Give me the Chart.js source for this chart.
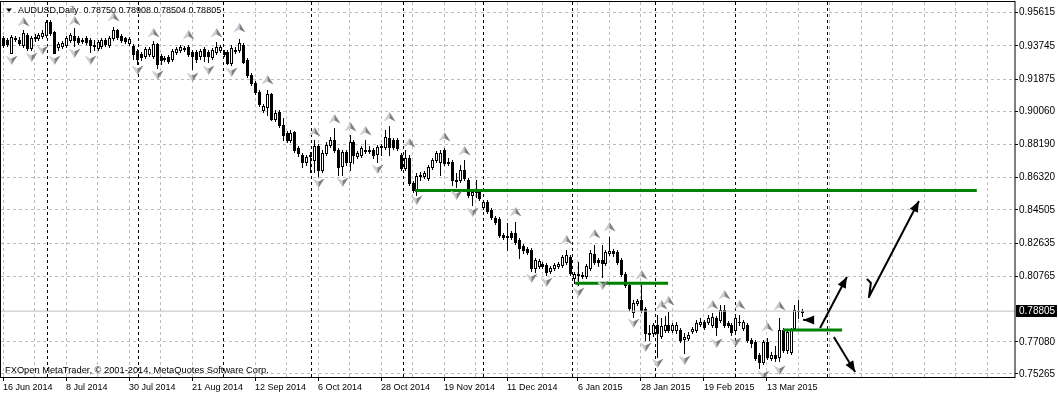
<!DOCTYPE html>
<html>
<head>
<meta charset="utf-8">
<script src="https://cdn.jsdelivr.net/npm/chart.js@4.4.1/dist/chart.umd.min.js"></script>
<style>
  html, body { margin: 0; padding: 0; background: #ffffff; }
  #wrap { width: 1058px; height: 395px; }
</style>
</head>
<body>
<div id="wrap"><canvas id="chart" width="1058" height="395"></canvas></div>
<script>
// AUDUSD daily bars, one entry per trading day from 16 Jun 2014
const openPrices = [
  0.9419, 0.9408, 0.9335, 0.9413, 0.9408, 0.9380, 0.9436, 0.9363, 0.9425, 0.9419,
  0.9430, 0.9436, 0.9509, 0.9453, 0.9368, 0.9374, 0.9380, 0.9408, 0.9430, 0.9419,
  0.9408, 0.9419, 0.9408, 0.9380, 0.9363, 0.9374, 0.9408, 0.9380, 0.9419, 0.9464,
  0.9430, 0.9419, 0.9391, 0.9373, 0.9345, 0.9328, 0.9317, 0.9328, 0.9317, 0.9385,
  0.9317, 0.9306, 0.9312, 0.9300, 0.9340, 0.9351, 0.9362, 0.9368, 0.9340, 0.9340,
  0.9317, 0.9357, 0.9340, 0.9312, 0.9340, 0.9351, 0.9340, 0.9340, 0.9278, 0.9351,
  0.9351, 0.9380, 0.9295, 0.9211, 0.9166, 0.9115, 0.9014, 0.9030, 0.9104, 0.8963,
  0.9002, 0.8929, 0.8884, 0.8845, 0.8890, 0.8800, 0.8760, 0.8721, 0.8760, 0.8732,
  0.8811, 0.8676, 0.8771, 0.8816, 0.8845, 0.8788, 0.8698, 0.8777, 0.8721, 0.8833,
  0.8754, 0.8760, 0.8788, 0.8788, 0.8788, 0.8766, 0.8811, 0.8805, 0.8856, 0.8845,
  0.8845, 0.8760, 0.8687, 0.8743, 0.8602, 0.8563, 0.8642, 0.8642, 0.8630, 0.8692,
  0.8732, 0.8721, 0.8788, 0.8715, 0.8721, 0.8619, 0.8619, 0.8676, 0.8619, 0.8535,
  0.8557, 0.8552, 0.8467, 0.8495, 0.8450, 0.8405, 0.8400, 0.8310, 0.8304, 0.8321,
  0.8321, 0.8281, 0.8248, 0.8231, 0.8225, 0.8124, 0.8135, 0.8146, 0.8141, 0.8107,
  0.8124, 0.8135, 0.8141, 0.8157, 0.8186, 0.8067, 0.8090, 0.8084, 0.8079, 0.8124,
  0.8202, 0.8169, 0.8169, 0.8152, 0.8208, 0.8219, 0.8214, 0.8169, 0.8090, 0.8028,
  0.7876, 0.7926, 0.7943, 0.7893, 0.7758, 0.7758, 0.7803, 0.7741, 0.7775, 0.7803,
  0.7775, 0.7775, 0.7775, 0.7724, 0.7729, 0.7769, 0.7775, 0.7808, 0.7820, 0.7820,
  0.7803, 0.7842, 0.7831, 0.7887, 0.7814, 0.7803, 0.7775, 0.7820, 0.7786, 0.7803,
  0.7718, 0.7707, 0.7634, 0.7594, 0.7707, 0.7617, 0.7634, 0.7622, 0.7775, 0.7662,
  0.7651, 0.7786, 0.7882, 0.78750
];
const highPrices = [
  0.9430, 0.9419, 0.9436, 0.9430, 0.9425, 0.9464, 0.9447, 0.9430, 0.9442, 0.9447,
  0.9464, 0.9520, 0.9520, 0.9458, 0.9396, 0.9402, 0.9430, 0.9447, 0.9475, 0.9430,
  0.9419, 0.9430, 0.9419, 0.9408, 0.9408, 0.9419, 0.9419, 0.9430, 0.9481, 0.9470,
  0.9442, 0.9425, 0.9425, 0.9385, 0.9357, 0.9340, 0.9368, 0.9368, 0.9402, 0.9390,
  0.9328, 0.9317, 0.9323, 0.9357, 0.9368, 0.9379, 0.9373, 0.9379, 0.9351, 0.9351,
  0.9357, 0.9368, 0.9351, 0.9363, 0.9396, 0.9380, 0.9351, 0.9351, 0.9380, 0.9368,
  0.9413, 0.9391, 0.9306, 0.9222, 0.9177, 0.9126, 0.9047, 0.9126, 0.9109, 0.9014,
  0.9014, 0.8968, 0.8895, 0.8901, 0.8895, 0.8811, 0.8771, 0.8760, 0.8777, 0.8845,
  0.8822, 0.8788, 0.8833, 0.8861, 0.8912, 0.8800, 0.8788, 0.8788, 0.8873, 0.8845,
  0.8783, 0.8811, 0.8845, 0.8811, 0.8800, 0.8816, 0.8822, 0.8901, 0.8923, 0.8856,
  0.8856, 0.8771, 0.8788, 0.8760, 0.8614, 0.8659, 0.8664, 0.8670, 0.8704, 0.8743,
  0.8783, 0.8788, 0.8800, 0.8743, 0.8732, 0.8659, 0.8704, 0.8732, 0.8630, 0.8563,
  0.8619, 0.8563, 0.8507, 0.8507, 0.8462, 0.8416, 0.8411, 0.8321, 0.8377, 0.8332,
  0.8383, 0.8293, 0.8259, 0.8242, 0.8236, 0.8180, 0.8174, 0.8157, 0.8152, 0.8135,
  0.8152, 0.8157, 0.8197, 0.8225, 0.8197, 0.8101, 0.8157, 0.8101, 0.8146, 0.8225,
  0.8253, 0.8180, 0.8253, 0.8225, 0.8298, 0.8231, 0.8225, 0.8180, 0.8101, 0.8039,
  0.7943, 0.7949, 0.8028, 0.7904, 0.7803, 0.7814, 0.7859, 0.7842, 0.7853, 0.7876,
  0.7814, 0.7820, 0.7786, 0.7758, 0.7763, 0.7791, 0.7831, 0.7842, 0.7831, 0.7859,
  0.7870, 0.7853, 0.7915, 0.7915, 0.7825, 0.7814, 0.7859, 0.7859, 0.7831, 0.7814,
  0.7729, 0.7718, 0.7645, 0.7718, 0.7729, 0.7651, 0.7684, 0.7842, 0.7786, 0.7775,
  0.7786, 0.7915, 0.7943, 0.78908
];
const lowPrices = [
  0.9368, 0.9374, 0.9335, 0.9402, 0.9380, 0.9368, 0.9351, 0.9351, 0.9402, 0.9408,
  0.9419, 0.9425, 0.9436, 0.9335, 0.9351, 0.9363, 0.9368, 0.9396, 0.9374, 0.9385,
  0.9391, 0.9385, 0.9340, 0.9351, 0.9351, 0.9363, 0.9374, 0.9368, 0.9408, 0.9413,
  0.9396, 0.9391, 0.9380, 0.9300, 0.9272, 0.9295, 0.9306, 0.9317, 0.9306, 0.9250,
  0.9272, 0.9289, 0.9278, 0.9289, 0.9328, 0.9340, 0.9345, 0.9317, 0.9244, 0.9283,
  0.9300, 0.9289, 0.9284, 0.9301, 0.9329, 0.9340, 0.9318, 0.9273, 0.9267, 0.9335,
  0.9340, 0.9278, 0.9199, 0.9154, 0.9104, 0.9036, 0.9002, 0.8985, 0.8957, 0.8952,
  0.8918, 0.8845, 0.8833, 0.8833, 0.8777, 0.8754, 0.8692, 0.8704, 0.8664, 0.8664,
  0.8642, 0.8664, 0.8760, 0.8805, 0.8777, 0.8647, 0.8647, 0.8704, 0.8676, 0.8715,
  0.8743, 0.8749, 0.8771, 0.8771, 0.8743, 0.8721, 0.8760, 0.8794, 0.8760, 0.8794,
  0.8788, 0.8676, 0.8676, 0.8591, 0.8552, 0.8535, 0.8619, 0.8630, 0.8619, 0.8681,
  0.8721, 0.8647, 0.8704, 0.8704, 0.8591, 0.8580, 0.8608, 0.8619, 0.8523, 0.8478,
  0.8523, 0.8507, 0.8456, 0.8433, 0.8400, 0.8371, 0.8298, 0.8287, 0.8225, 0.8287,
  0.8259, 0.8180, 0.8208, 0.8202, 0.8107, 0.8101, 0.8124, 0.8124, 0.8084, 0.8095,
  0.8112, 0.8124, 0.8129, 0.8146, 0.8084, 0.8039, 0.8028, 0.8067, 0.8067, 0.8112,
  0.8146, 0.8135, 0.8073, 0.8141, 0.8197, 0.8191, 0.8146, 0.8079, 0.8017, 0.7887,
  0.7848, 0.7915, 0.7876, 0.7718, 0.7718, 0.7741, 0.7622, 0.7729, 0.7763, 0.7763,
  0.7763, 0.7758, 0.7707, 0.7645, 0.7718, 0.7758, 0.7763, 0.7797, 0.7780, 0.7808,
  0.7791, 0.7746, 0.7820, 0.7791, 0.7791, 0.7746, 0.7763, 0.7803, 0.7775, 0.7707,
  0.7679, 0.7605, 0.7560, 0.7583, 0.7611, 0.7605, 0.7600, 0.7600, 0.7651, 0.7645,
  0.7639, 0.7775, 0.7842, 0.78504
];
const closePrices = [
  0.9380, 0.9385, 0.9425, 0.9419, 0.9391, 0.9447, 0.9363, 0.9419, 0.9419, 0.9436,
  0.9447, 0.9509, 0.9447, 0.9335, 0.9385, 0.9391, 0.9419, 0.9436, 0.9408, 0.9396,
  0.9402, 0.9396, 0.9380, 0.9374, 0.9396, 0.9408, 0.9385, 0.9419, 0.9464, 0.9425,
  0.9408, 0.9402, 0.9413, 0.9328, 0.9300, 0.9312, 0.9357, 0.9357, 0.9385, 0.9272,
  0.9295, 0.9300, 0.9289, 0.9345, 0.9357, 0.9368, 0.9357, 0.9328, 0.9317, 0.9300,
  0.9345, 0.9317, 0.9318, 0.9351, 0.9368, 0.9368, 0.9329, 0.9278, 0.9363, 0.9346,
  0.9391, 0.9284, 0.9211, 0.9166, 0.9115, 0.9047, 0.9036, 0.9104, 0.8963, 0.8997,
  0.8929, 0.8873, 0.8845, 0.8884, 0.8788, 0.8771, 0.8721, 0.8749, 0.8754, 0.8811,
  0.8676, 0.8771, 0.8816, 0.8845, 0.8788, 0.8692, 0.8777, 0.8721, 0.8833, 0.8760,
  0.8771, 0.8800, 0.8783, 0.8783, 0.8760, 0.8805, 0.8805, 0.8861, 0.8805, 0.8805,
  0.8800, 0.8687, 0.8743, 0.8602, 0.8563, 0.8642, 0.8647, 0.8659, 0.8692, 0.8732,
  0.8771, 0.8771, 0.8715, 0.8721, 0.8619, 0.8614, 0.8676, 0.8630, 0.8535, 0.8552,
  0.8552, 0.8518, 0.8495, 0.8445, 0.8411, 0.8383, 0.8310, 0.8298, 0.8298, 0.8298,
  0.8270, 0.8236, 0.8225, 0.8214, 0.8124, 0.8169, 0.8163, 0.8135, 0.8101, 0.8124,
  0.8141, 0.8146, 0.8186, 0.8197, 0.8095, 0.8090, 0.8084, 0.8079, 0.8135, 0.8208,
  0.8157, 0.8157, 0.8152, 0.8214, 0.8219, 0.8208, 0.8157, 0.8090, 0.8028, 0.7898,
  0.7926, 0.7938, 0.7887, 0.7758, 0.7752, 0.7803, 0.7758, 0.7797, 0.7803, 0.7775,
  0.7803, 0.7803, 0.7718, 0.7735, 0.7746, 0.7780, 0.7814, 0.7820, 0.7791, 0.7842,
  0.7848, 0.7791, 0.7887, 0.7803, 0.7803, 0.7763, 0.7842, 0.7817, 0.7820, 0.7718,
  0.7701, 0.7617, 0.7594, 0.7707, 0.7622, 0.7634, 0.7617, 0.7775, 0.7662, 0.7763,
  0.7775, 0.7887, 0.7880, 0.78805
];

// Bill Williams fractals: bar index and arrow level
const upFractalBars = [5, 18, 28, 38, 47, 54, 60, 67, 79, 84, 88, 92, 98, 103, 112, 117, 130, 143, 150, 154, 162, 167, 169, 180, 183, 187, 194, 197];
const upFractalPrices = [0.9509, 0.9515, 0.9537, 0.9447, 0.9436, 0.9447, 0.9475, 0.9183, 0.8890, 0.8963, 0.8918, 0.8895, 0.8974, 0.8828, 0.8861, 0.8783, 0.8439, 0.8281, 0.8315, 0.8355, 0.8084, 0.7915, 0.7938, 0.7915, 0.7972, 0.7915, 0.7791, 0.7910];
const downFractalBars = [2, 7, 10, 13, 18, 22, 34, 39, 48, 52, 58, 80, 86, 95, 105, 115, 119, 134, 138, 146, 152, 160, 163, 166, 173, 181, 186, 193, 197];
const downFractalPrices = [0.9295, 0.9312, 0.9351, 0.9295, 0.9335, 0.9295, 0.9239, 0.9211, 0.9199, 0.9239, 0.9228, 0.8602, 0.8608, 0.8681, 0.8507, 0.8535, 0.8439, 0.8067, 0.8045, 0.7989, 0.8028, 0.7814, 0.7679, 0.7589, 0.7605, 0.7701, 0.7707, 0.7521, 0.7549];

// time axis
const dateBars = [0, 16, 32, 48, 64, 80, 96, 112, 128, 146, 162, 178, 194];
const dateLabels = ['16 Jun 2014', '8 Jul 2014', '30 Jul 2014', '21 Aug 2014', '12 Sep 2014', '6 Oct 2014',
  '28 Oct 2014', '19 Nov 2014', '11 Dec 2014', '6 Jan 2015', '28 Jan 2015', '19 Feb 2015', '13 Mar 2015'];
const gridBars = [0, 8, 16, 24, 32, 40, 48, 56, 64, 72, 80, 88, 96, 104, 112, 120, 128, 137, 146, 154,
  162, 170, 178, 186, 194, 202, 210, 218, 226, 234, 242, 250];
const monthSeparators = [11.2, 34.3, 55.8, 78.2, 101.5, 121.8, 144.4, 165.5, 185.8, 209.2];

// price axis
const priceTicks = [0.95615, 0.93745, 0.91875, 0.90060, 0.88190, 0.86320, 0.84505, 0.82635, 0.80765, 0.77080, 0.75265];

// drawn objects: horizontal levels and hand-drawn arrows (bar index, price)
const levelStart = [104.6, 145.3, 198.1];
const levelEnd = [247.3, 168.9, 213.1];
const levelPrice = [0.8560, 0.8037, 0.7775];
const arrowPaths = [
  [[205.7, 0.7831], [203.2, 0.7831]],
  [[207.5, 0.7786], [214.3, 0.8073]],
  [[211.0, 0.7735], [216.4, 0.7538]],
  [[219.4, 0.8062], [220.4, 0.8039], [219.9, 0.7960], [232.6, 0.8501]]
];

const lastBar = closePrices.length - 1;
const bidPrice = closePrices[lastBar];
const gridColor = '#bcbcbc';
const fontFamily = '"Liberation Sans", Arial, sans-serif';

function drawFractal(ctx, cx, cy, up) {
  const s = up ? -1 : 1;
  ctx.beginPath();
  ctx.moveTo(cx, cy + s * 5);
  ctx.lineTo(cx - 6, cy - s * 4.5);
  ctx.lineTo(cx, cy - s * 1.5);
  ctx.closePath();
  ctx.fillStyle = '#c9ced6';
  ctx.fill();
  ctx.beginPath();
  ctx.moveTo(cx, cy + s * 5);
  ctx.lineTo(cx + 6, cy - s * 4.5);
  ctx.lineTo(cx, cy - s * 1.5);
  ctx.closePath();
  ctx.fillStyle = '#808080';
  ctx.fill();
}

const mtPlugin = {
  id: 'metatrader',
  beforeDatasetsDraw(chart) {
    const { ctx, chartArea: a, scales: { x, y } } = chart;
    ctx.save();
    ctx.beginPath();
    ctx.rect(a.left, a.top, a.right - a.left, a.bottom - a.top);
    ctx.clip();

    // period separators
    ctx.strokeStyle = '#000';
    ctx.lineWidth = 1;
    ctx.setLineDash([3, 3]);
    monthSeparators.forEach(v => {
      const px = Math.round(x.getPixelForValue(v)) + 0.5;
      ctx.beginPath();
      ctx.moveTo(px, a.top);
      ctx.lineTo(px, a.bottom);
      ctx.stroke();
    });
    ctx.setLineDash([]);

    // candles
    for (let i = 0; i < closePrices.length; i++) {
      const px = Math.round(x.getPixelForValue(i));
      const yo = y.getPixelForValue(openPrices[i]);
      const yc = y.getPixelForValue(closePrices[i]);
      const yh = Math.round(y.getPixelForValue(highPrices[i]));
      const yl = Math.round(y.getPixelForValue(lowPrices[i]));
      ctx.fillStyle = '#000';
      ctx.fillRect(px, yh, 1, Math.max(1, yl - yh + 1));
      const top = Math.round(Math.min(yo, yc));
      const bot = Math.round(Math.max(yo, yc));
      ctx.fillRect(px - 1, top, 3, bot - top + 1);
      if (closePrices[i] > openPrices[i] && bot - top >= 2) {
        ctx.fillStyle = '#fff';
        ctx.fillRect(px, top + 1, 1, bot - top - 1);
      }
    }
    ctx.restore();
  },
  afterDatasetsDraw(chart) {
    const { ctx, chartArea: a, scales: { x, y } } = chart;
    ctx.save();
    ctx.beginPath();
    ctx.rect(a.left, a.top, a.right - a.left, a.bottom - a.top);
    ctx.clip();

    // arrow heads
    ctx.fillStyle = '#000';
    arrowPaths.forEach(path => {
      const p1 = path[path.length - 2], p2 = path[path.length - 1];
      const x1 = x.getPixelForValue(p1[0]), y1 = y.getPixelForValue(p1[1]);
      const x2 = x.getPixelForValue(p2[0]), y2 = y.getPixelForValue(p2[1]);
      const ang = Math.atan2(y2 - y1, x2 - x1);
      const len = 11, half = 4.5;
      const bx = x2 - Math.cos(ang) * len, by = y2 - Math.sin(ang) * len;
      ctx.beginPath();
      ctx.moveTo(x2, y2);
      ctx.lineTo(bx + Math.sin(ang) * half, by - Math.cos(ang) * half);
      ctx.lineTo(bx - Math.sin(ang) * half, by + Math.cos(ang) * half);
      ctx.closePath();
      ctx.fill();
    });

    // fractals
    upFractalBars.forEach((b, k) => {
      drawFractal(ctx, Math.round(x.getPixelForValue(b)) + 0.5, y.getPixelForValue(upFractalPrices[k]), true);
    });
    downFractalBars.forEach((b, k) => {
      drawFractal(ctx, Math.round(x.getPixelForValue(b)) + 0.5, y.getPixelForValue(downFractalPrices[k]), false);
    });
    ctx.restore();
  },
  afterDraw(chart) {
    const { ctx, chartArea: a, scales: { y } } = chart;
    ctx.save();
    // frame
    ctx.strokeStyle = '#000';
    ctx.lineWidth = 1;
    ctx.strokeRect(0.5, a.top - 0.5, a.right - 0.5, a.bottom - a.top + 1);

    // title
    ctx.fillStyle = '#000';
    ctx.beginPath();
    ctx.moveTo(6, 8.5);
    ctx.lineTo(12, 8.5);
    ctx.lineTo(9, 12);
    ctx.closePath();
    ctx.fill();
    ctx.font = '9px ' + fontFamily;
    ctx.textBaseline = 'middle';
    ctx.textAlign = 'left';
    const ohlc = [openPrices[lastBar], highPrices[lastBar], lowPrices[lastBar], closePrices[lastBar]]
      .map(v => v.toFixed(5)).join(' ');
    ctx.fillText('AUDUSD,Daily  ' + ohlc, 18, 10.5);

    // copyright
    ctx.font = '9.3px ' + fontFamily;
    ctx.fillText('FXOpen MetaTrader, \u00a9 2001-2014, MetaQuotes Software Corp.', 5, 370);

    // current price label
    const py = Math.round(y.getPixelForValue(bidPrice));
    ctx.fillStyle = '#000';
    ctx.fillRect(a.right + 1, py - 6, 41, 12);
    ctx.fillStyle = '#fff';
    ctx.font = '10px ' + fontFamily;
    ctx.fillText(bidPrice.toFixed(5), a.right + 4, py + 0.5);
    ctx.restore();
  }
};

const datasets = [];
levelPrice.forEach((p, k) => {
  datasets.push({
    data: [{ x: levelStart[k], y: p }, { x: levelEnd[k], y: p }],
    borderColor: '#008000', borderWidth: 3, pointRadius: 0, borderCapStyle: 'butt'
  });
});
arrowPaths.forEach(path => {
  datasets.push({
    data: path.map(p => ({ x: p[0], y: p[1] })),
    borderColor: '#000', borderWidth: 2, pointRadius: 0, borderJoinStyle: 'round'
  });
});
datasets.push({
  data: [{ x: -1, y: bidPrice }, { x: 258, y: bidPrice }],
  borderColor: '#c0c0c0', borderWidth: 1, pointRadius: 0
});

new Chart(document.getElementById('chart'), {
  type: 'line',
  data: { datasets: datasets },
  options: {
    responsive: false,
    animation: false,
    events: [],
    layout: { padding: { left: 1, top: 2, right: 0, bottom: 0 } },
    plugins: { legend: { display: false }, tooltip: { enabled: false } },
    elements: { line: { tension: 0 } },
    scales: {
      x: {
        type: 'linear',
        position: 'bottom',
        min: -0.51,
        max: 257,
        afterBuildTicks: s => { s.ticks = gridBars.map(v => ({ value: v })); },
        afterFit: s => { s.height = 18; s.paddingLeft = 0; s.paddingRight = 0; },
        grid: {
          color: gridColor,
          lineWidth: 1,
          tickLength: 4,
          tickColor: c => (c.tick && dateBars.includes(c.tick.value)) ? '#000' : 'rgba(0,0,0,0)',
          tickBorderDash: [1, 0]
        },
        border: { display: false, dash: [3, 3] },
        ticks: {
          autoSkip: false, maxRotation: 0, minRotation: 0, align: 'start', padding: 1,
          color: '#000', font: { family: fontFamily, size: 9 },
          callback: v => { const k = dateBars.indexOf(v); return k >= 0 ? dateLabels[k] : ''; }
        }
      },
      y: {
        type: 'linear',
        position: 'right',
        min: 0.75096,
        max: 0.96218,
        afterBuildTicks: s => { s.ticks = priceTicks.map(v => ({ value: v })); },
        afterFit: s => { s.width = 43; s.paddingTop = 0; s.paddingBottom = 0; },
        grid: { color: gridColor, lineWidth: 1, tickLength: 3, tickColor: '#000', tickBorderDash: [1, 0] },
        border: { display: false, dash: [3, 3] },
        ticks: {
          padding: 1, color: '#000', font: { family: fontFamily, size: 10 },
          callback: v => v.toFixed(5)
        }
      }
    }
  },
  plugins: [mtPlugin]
});
</script>
</body>
</html>
